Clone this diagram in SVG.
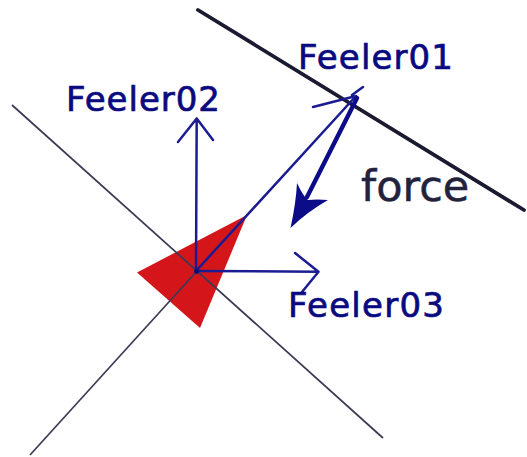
<svg xmlns="http://www.w3.org/2000/svg" width="527" height="457" viewBox="0 0 527 457">
<style>
.thin{stroke:#3a3a55;stroke-width:1.7;fill:none}
.wall{stroke:#1a1a30;stroke-width:3.8;fill:none;stroke-linecap:round}
.feeler{stroke:#1c1c92;stroke-width:2.5;fill:none;stroke-linecap:round;stroke-linejoin:round}
.lbl{font-family:"DejaVu Sans",Verdana,sans-serif;font-size:34px;fill:#0a0a80;stroke:#0a0a80;stroke-width:0.7}
.force{font-family:"DejaVu Sans",Verdana,sans-serif;font-size:43px;fill:#22223c;stroke:#22223c;stroke-width:0.5}
</style>
<rect width="527" height="457" fill="#ffffff"/>
<g id="agent">
<polygon points="137,272.5 247,215 200,328" fill="#d4161b"/>
</g>
<g id="wall">
<line class="wall" x1="198" y1="10" x2="524" y2="210"/>
</g>
<g id="connectors">
<line class="thin" x1="12" y1="105" x2="383" y2="438"/>
<line class="thin" x1="30" y1="455" x2="197" y2="271"/>
<path class="feeler" d="M196,271 L356,96 M313,107 L356,96 M352,95 L363,87"/>
<path class="feeler" d="M196,271 L196.7,118.5 M178,142 L196.7,118.5 L213,140"/>
<path class="feeler" d="M196,271 L318.5,271.7 M295,253 L318.5,271.7 L302,292"/>
<line x1="357" y1="98" x2="307" y2="197" stroke="#0c0c88" stroke-width="4.4" stroke-linecap="round"/>
<path d="M290.5,228 Q296,203 297,183 Q303,196 308,200 Q317,199 328,200 Q307,212 290.5,228 Z" fill="#0c0c88"/>
<circle cx="196.5" cy="271.5" r="2.4" fill="#0c0c80"/>
</g>
<g id="label-feeler01"><text class="lbl" x="298" y="69" textLength="155">Feeler01</text></g>
<g id="label-feeler02"><text class="lbl" x="66" y="111" textLength="154">Feeler02</text></g>
<g id="label-feeler03"><text class="lbl" x="288" y="317" textLength="156">Feeler03</text></g>
<g id="label-force"><text class="force" x="361" y="201">force</text></g>
</svg>
